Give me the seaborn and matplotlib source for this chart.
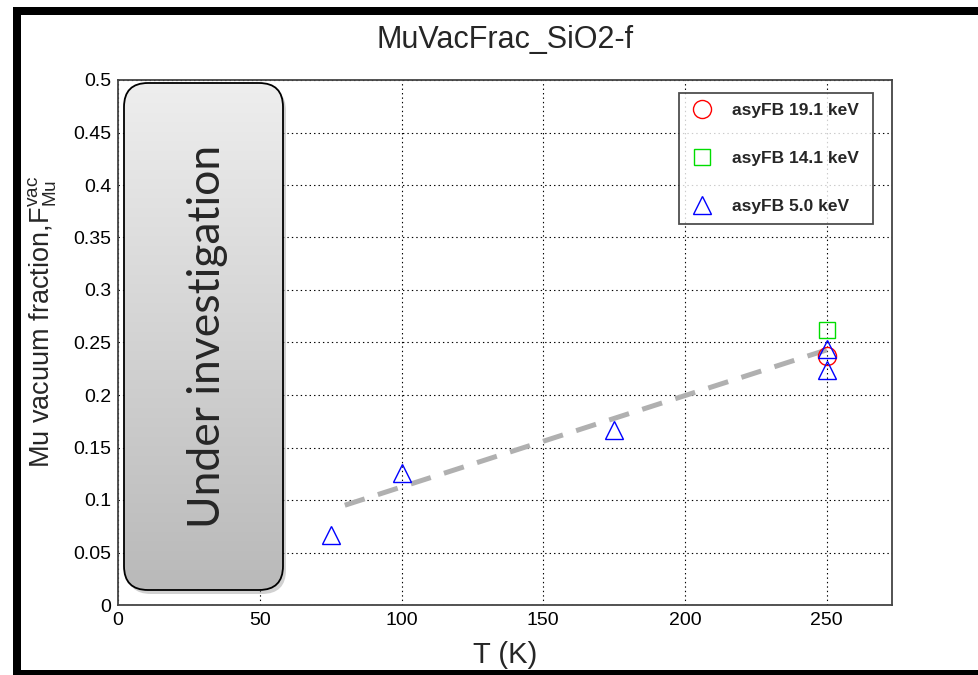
import matplotlib
matplotlib.use("Agg")
import matplotlib.pyplot as plt
import numpy as np
import seaborn as sns
from matplotlib.colors import LinearSegmentedColormap
from matplotlib.patches import FancyBboxPatch, Rectangle
from matplotlib.ticker import FuncFormatter, MultipleLocator

# values
temp_191 = [250]
frac_191 = [0.237]
temp_141 = [250]
frac_141 = [0.262]
temp_50 = [75, 100, 175, 250, 250]
frac_50 = [0.067, 0.126, 0.167, 0.244, 0.224]
trend_temp = [80, 250]
trend_frac = [0.095, 0.243]

labels = ["asyFB 19.1 keV", "asyFB 14.1 keV", "asyFB 5.0 keV"]
temps = [temp_191, temp_141, temp_50]
fracs = [frac_191, frac_141, frac_50]
markers = ["o", "s", "^"]
colors = ["#ff0000", "#00dd00", "#0000ff"]
sizes = [13, 12, 13]

sns.set_style("white")
plt.rcParams["font.family"] = ["Liberation Sans", "DejaVu Sans"]
plt.rcParams["mathtext.fontset"] = "custom"
plt.rcParams["mathtext.rm"] = "Liberation Sans"
plt.rcParams["lines.scale_dashes"] = False

W, H = 979, 675
fig = plt.figure(figsize=(W / 100, H / 100), dpi=100)
fig.patch.set_facecolor("white")
ax = fig.add_axes([118 / W, (H - 605) / H, 774 / W, 525 / H])

# trend line under the markers
sns.lineplot(x=trend_temp, y=trend_frac, ax=ax, color="#b0b0b0", lw=3.6,
             dashes=False, linestyle=(0, (15, 10)), zorder=2)

for lab, tx, fy, m, c, ms in zip(labels, temps, fracs, markers, colors, sizes):
    sns.lineplot(x=tx, y=fy, ax=ax, estimator=None, sort=False, linestyle="",
                 marker=m, markersize=ms, markerfacecolor="none",
                 markeredgecolor=c, markeredgewidth=1.0, color=c,
                 label=lab, zorder=3)

ax.set_xlim(0, 273)
ax.set_ylim(0, 0.5)
ax.xaxis.set_major_locator(MultipleLocator(50))
ax.xaxis.set_minor_locator(MultipleLocator(10))
ax.yaxis.set_major_locator(MultipleLocator(0.05))
ax.yaxis.set_minor_locator(MultipleLocator(0.01))
ax.yaxis.set_major_formatter(FuncFormatter(lambda v, p: f"{v:g}"))
ax.tick_params(axis="both", which="both", direction="in", colors="#333333",
               labelcolor="black", labelsize=14, width=1)
ax.tick_params(axis="x", which="major", length=11.5, pad=5)
ax.tick_params(axis="x", which="minor", length=5.4)
ax.tick_params(axis="y", which="major", length=14, pad=5)
ax.tick_params(axis="y", which="minor", length=7)
ax.grid(True, which="major", color="black", linestyle=(0, (1, 2.2)), lw=0.8)
for sp in ax.spines.values():
    sp.set_color("#444444")
    sp.set_linewidth(1.3)

ax.set_xlabel("T (K)", fontsize=21)
ax.xaxis.set_label_coords(0.5, -0.068)
ax.set_ylabel(r"Mu vacuum fraction,$\mathregular{F^{vac}_{Mu}}$", fontsize=19.5)
ax.yaxis.set_label_coords(-0.076, 0.54)

handles, _ = ax.get_legend_handles_labels()
leg = ax.legend(handles, labels, loc="upper left",
                bbox_to_anchor=(0.725, 0.722, 0.25, 0.253), mode="expand",
                borderaxespad=0, fancybox=False, frameon=True,
                prop={"weight": "bold", "size": 12.5}, labelspacing=1.9,
                borderpad=0.55, handlelength=1.5, handletextpad=1.0)
leg.get_frame().set_edgecolor("#222222")
leg.get_frame().set_linewidth(1.3)

fig.text(505 / W, 1 - 40 / H, "MuVacFrac_SiO2-f", ha="center", va="center",
         fontsize=22)

# overlay in pixel coordinates for the note box and the black frame
ov = fig.add_axes([0, 0, 1, 1], zorder=5)
ov.patch.set_alpha(0)
ov.axis("off")

shadow = FancyBboxPatch((127, 87), 159, 507,
                        boxstyle="round,pad=0,rounding_size=24",
                        fc="#999999", ec="none", alpha=0.45)
ov.add_patch(shadow)
box = FancyBboxPatch((124, 83), 159, 507,
                     boxstyle="round,pad=0,rounding_size=24",
                     fc="none", ec="black", lw=1.3, zorder=3)
ov.add_patch(box)
grey = LinearSegmentedColormap.from_list("grey", ["#eeeeee", "#b9b9b9"])
grad = np.linspace(0, 1, 256).reshape(-1, 1)
im = ov.imshow(grad, extent=(124, 283, 590, 83), cmap=grey, aspect="auto",
               zorder=2)
im.set_clip_path(box)
ov.text(208, 336, "Under investigation", rotation=90, ha="center",
        va="center", fontsize=32, family=["Lato", "DejaVu Sans"], zorder=4)

ov.add_patch(Rectangle((13, 7), 8, 668, fc="black", ec="none"))
ov.add_patch(Rectangle((13, 7), 966, 8, fc="black", ec="none"))
ov.add_patch(Rectangle((13, 670), 966, 5, fc="black", ec="none"))
ov.set_xlim(0, W)
ov.set_ylim(H, 0)

fig.savefig("out.png", dpi=100)
